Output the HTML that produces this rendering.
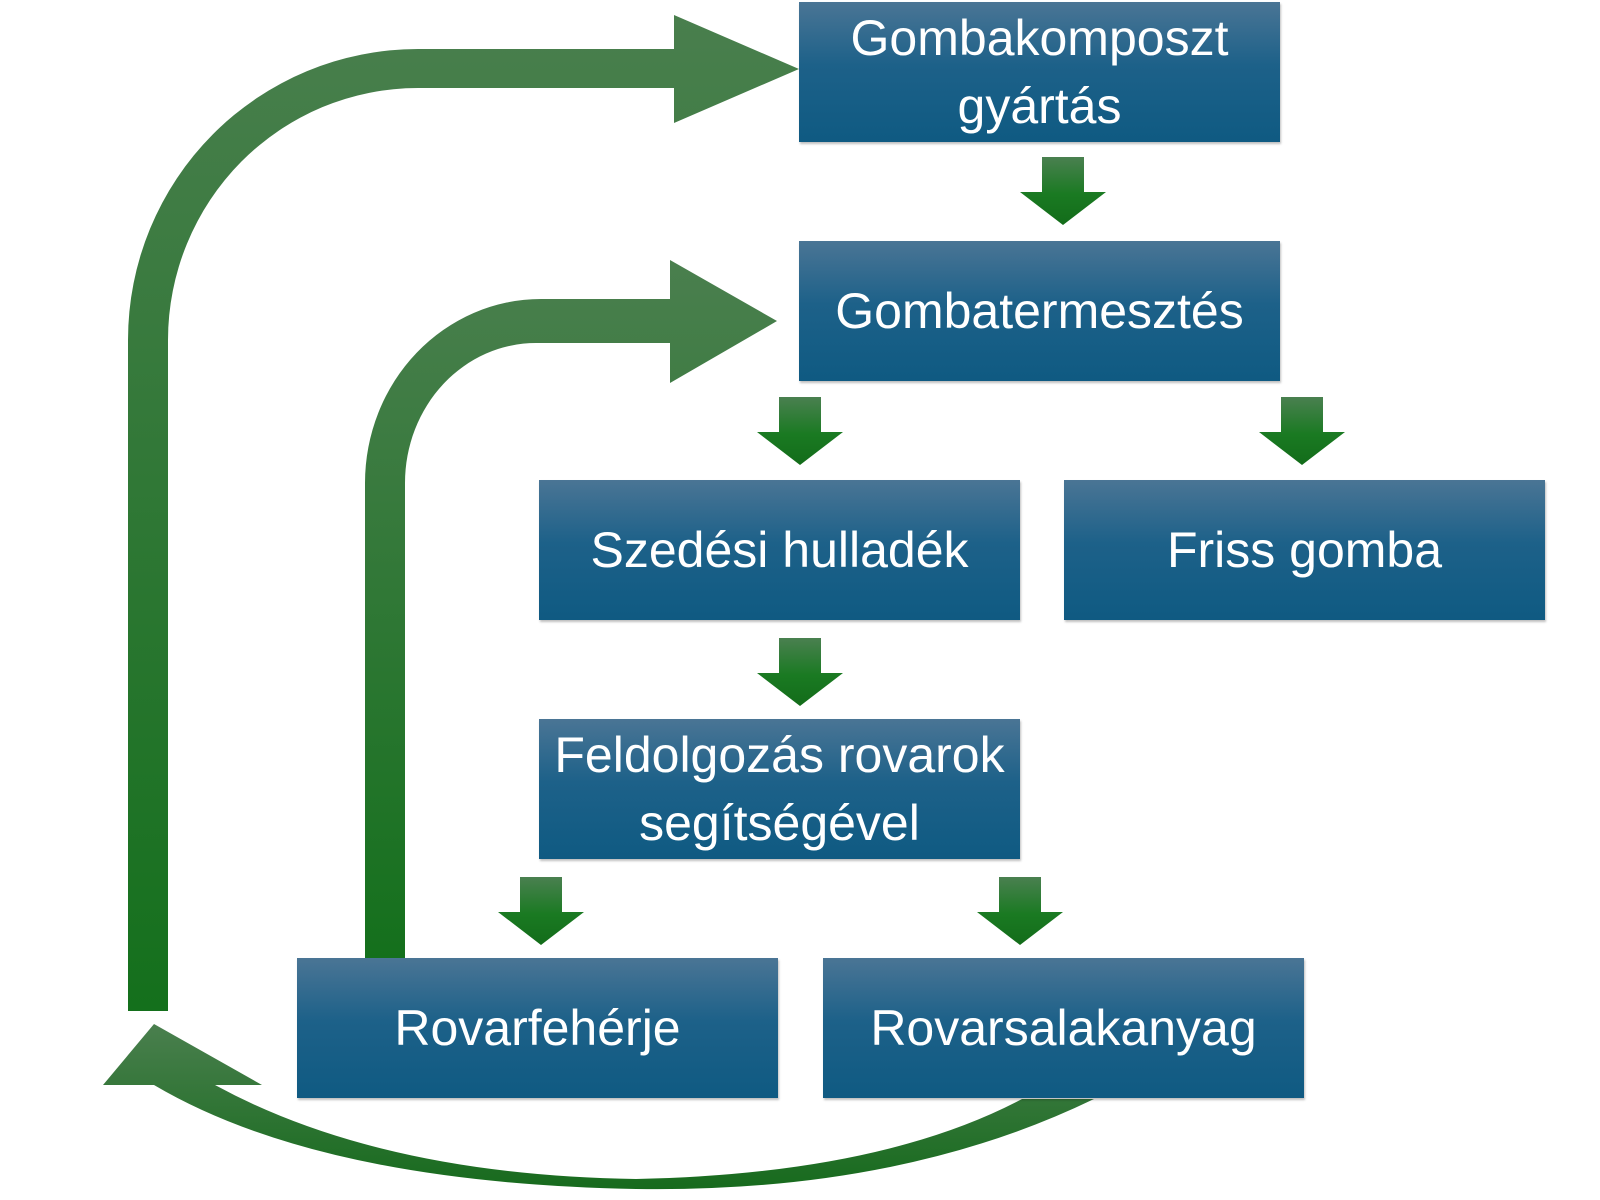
<!DOCTYPE html>
<html><head><meta charset="utf-8"><style>
html,body{margin:0;padding:0;background:#fff;}
body{width:1600px;height:1200px;position:relative;overflow:hidden;font-family:"Liberation Sans",sans-serif;}
.box{position:absolute;width:481px;height:140px;background:linear-gradient(#4a7595 0%,#1d6189 45%,#0f5a82 100%);color:#fff;display:flex;align-items:center;justify-content:center;text-align:center;font-size:50px;line-height:68px;box-shadow:1px 2px 2px rgba(0,0,0,0.25);}
svg{position:absolute;left:0;top:0;}
</style></head><body>
<svg width="1600" height="1200" viewBox="0 0 1600 1200">
<defs>
<linearGradient id="sg" x1="0" y1="0" x2="0" y2="1"><stop offset="0" stop-color="#4a8050"/><stop offset="0.55" stop-color="#1a7a22"/><stop offset="1" stop-color="#136c1a"/></linearGradient>
<linearGradient id="bg1" x1="0" y1="0" x2="0" y2="1011" gradientUnits="userSpaceOnUse"><stop offset="0" stop-color="#4a7f4e"/><stop offset="1" stop-color="#14701c"/></linearGradient>
<linearGradient id="bg2" x1="0" y1="260" x2="0" y2="961" gradientUnits="userSpaceOnUse"><stop offset="0" stop-color="#4a7f4e"/><stop offset="1" stop-color="#14701c"/></linearGradient>
<linearGradient id="bg3" x1="0" y1="1024" x2="0" y2="1192" gradientUnits="userSpaceOnUse"><stop offset="0" stop-color="#4a7f4e"/><stop offset="1" stop-color="#166a1c"/></linearGradient>
</defs>
<path fill="url(#bg1)" d="M128,1011 L128,340 A290,291 0 0 1 418,49 L674,49 L674,15 L799,69 L674,123 L674,88 L418,88 A250,252 0 0 0 168,340 L168,1011 Z"/>
<path fill="url(#bg2)" d="M365,961 L365,483 A176,184 0 0 1 541,299 L670,299 L670,260 L777,321 L670,383 L670,343 L536,343 A131,140 0 0 0 405,483 L405,961 Z"/>
<path fill="url(#bg3)" d="M1094,1099 Q900,1193 636,1189 Q320,1183 154,1085 L103,1085 L154,1024 L262,1085 L215,1085 Q380,1175 636,1179 Q880,1174 1022,1099 Z"/>
<g fill="url(#sg)">
<path transform="translate(1063,157)" d="M-21,0 H21 V35 H43 L0,68 L-43,35 H-21 Z"/>
<path transform="translate(800,397)" d="M-21,0 H21 V35 H43 L0,68 L-43,35 H-21 Z"/>
<path transform="translate(1302,397)" d="M-21,0 H21 V35 H43 L0,68 L-43,35 H-21 Z"/>
<path transform="translate(800,638)" d="M-21,0 H21 V35 H43 L0,68 L-43,35 H-21 Z"/>
<path transform="translate(541,877)" d="M-21,0 H21 V35 H43 L0,68 L-43,35 H-21 Z"/>
<path transform="translate(1020,877)" d="M-21,0 H21 V35 H43 L0,68 L-43,35 H-21 Z"/>
</g>
</svg>
<div class="box" style="left:799px;top:2px;">Gombakomposzt<br>gyártás</div>
<div class="box" style="left:799px;top:241px;">Gombatermesztés</div>
<div class="box" style="left:539px;top:480px;">Szedési hulladék</div>
<div class="box" style="left:1064px;top:480px;">Friss gomba</div>
<div class="box" style="left:539px;top:719px;">Feldolgozás rovarok<br>segítségével</div>
<div class="box" style="left:297px;top:958px;">Rovarfehérje</div>
<div class="box" style="left:823px;top:958px;">Rovarsalakanyag</div>
</body></html>
